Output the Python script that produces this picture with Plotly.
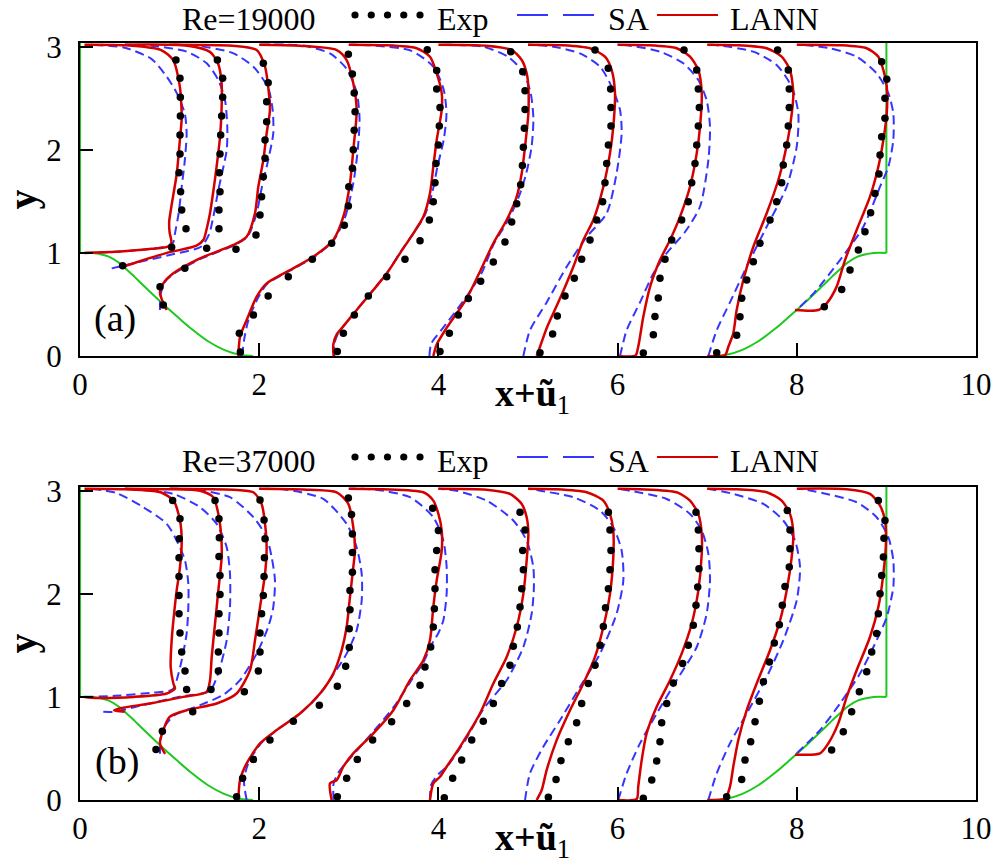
import plotly.graph_objects as go

W, H = 999, 863
FONT = "Liberation Serif"
RED = "#d40000"
BLUE = "#3535ff"
GREEN = "#1ec81e"

X_TICKS = [0, 2, 4, 6, 8, 10]
Y_TICKS = [0, 1, 2, 3]
X_RANGE = [0, 10]
Y_RANGE = [0, 3.036]
STATIONS = [0.05, 0.5, 1, 2, 3, 4, 5, 6, 7, 8]
PANEL_TITLES = ["Re=19000", "Re=37000"]
PANEL_TAGS = ["(a)", "(b)"]
SERIES_NAMES = ["Exp", "SA", "LANN"]

# hill geometry
HILL_X = [0.0, 0.143, 0.321, 0.429, 0.5, 0.607, 0.714, 0.893, 1.071, 1.25, 1.429, 1.607, 1.786, 1.929]
HILL_Y = [1.0, 0.999, 0.964, 0.908, 0.857, 0.770, 0.679, 0.532, 0.393, 0.259, 0.143, 0.060, 0.012, 0.0]
WALL_LEFT_X = 0.0
WALL_RIGHT_X = 9.0
HILL_TOP = 1.0
CHANNEL_TOP = 3.036

# ---------------- panel (a) Re=19000 ----------------
LANN_A_X = [
    [0.05, 0.4, 0.8, 0.98, 1.02, 1.0, 0.995, 1.02, 1.08, 1.115, 1.135, 1.13, 1.115, 1.04, 0.9, 0.5, 0.05],
    [0.46, 0.6, 0.97, 1.3, 1.38, 1.41, 1.45, 1.49, 1.525, 1.56, 1.58, 1.58, 1.54, 1.45, 1.2, 0.5],
    [0.967, 0.893, 0.93, 1.042, 1.339, 1.711, 1.86, 1.953, 1.99, 2.046, 2.083, 2.12, 2.1, 2.065, 1.972, 1.7, 1.0],
    [1.767, 1.786, 1.86, 1.972, 2.083, 2.344, 2.604, 2.827, 2.939, 3.013, 3.05, 3.088, 3.05, 2.976, 2.865, 2.455, 2.0],
    [2.83, 2.827, 2.865, 2.94, 3.088, 3.274, 3.423, 3.571, 3.72, 3.832, 3.906, 3.943, 3.981, 4.037, 4.037, 3.981, 3.906, 3.757, 3.385, 3.0],
    [3.943, 3.98, 4.09, 4.315, 4.47, 4.613, 4.762, 4.874, 4.93, 4.967, 5.004, 5.004, 4.985, 4.93, 4.818, 4.539, 4.0],
    [5.097, 5.134, 5.208, 5.357, 5.506, 5.618, 5.729, 5.841, 5.915, 5.952, 5.971, 5.934, 5.859, 5.692, 5.394, 5.0],
    [6.0, 6.2, 6.23, 6.287, 6.362, 6.473, 6.585, 6.696, 6.808, 6.883, 6.92, 6.939, 6.901, 6.808, 6.659, 6.324, 6.0],
    [7.0, 7.2, 7.236, 7.291, 7.329, 7.403, 7.515, 7.664, 7.794, 7.868, 7.924, 7.961, 7.924, 7.831, 7.664, 7.329, 7.0],
    [7.98, 8.24, 8.333, 8.445, 8.538, 8.668, 8.817, 8.91, 8.966, 9.004, 9.004, 8.966, 8.91, 8.78, 8.482, 8.0],
]
LANN_A_Y = [
    [1.0, 1.01, 1.04, 1.06, 1.1, 1.2, 1.3, 1.45, 1.77, 2.1, 2.3, 2.45, 2.61, 2.87, 2.97, 3.015, 3.02],
    [0.86, 0.9, 1.0, 1.07, 1.13, 1.22, 1.38, 1.61, 1.84, 2.1, 2.39, 2.65, 2.84, 2.95, 3.01, 3.02],
    [0.446, 0.608, 0.705, 0.802, 0.947, 1.077, 1.157, 1.384, 1.642, 1.901, 2.16, 2.386, 2.612, 2.806, 2.968, 3.01, 3.02],
    [0.0, 0.187, 0.349, 0.575, 0.705, 0.834, 0.963, 1.125, 1.351, 1.675, 1.998, 2.386, 2.645, 2.871, 2.968, 3.01, 3.02],
    [0.0, 0.11, 0.21, 0.29, 0.446, 0.64, 0.80, 0.996, 1.19, 1.35, 1.578, 1.836, 2.095, 2.386, 2.55, 2.742, 2.903, 2.985, 3.015, 3.02],
    [0.0, 0.11, 0.27, 0.557, 0.83, 1.093, 1.319, 1.545, 1.772, 2.03, 2.354, 2.612, 2.742, 2.871, 2.968, 3.01, 3.02],
    [0.0, 0.09, 0.27, 0.557, 0.866, 1.125, 1.319, 1.642, 1.965, 2.225, 2.548, 2.774, 2.903, 2.985, 3.015, 3.02],
    [0.0, 0.005, 0.09, 0.38, 0.67, 0.93, 1.125, 1.35, 1.642, 1.965, 2.225, 2.548, 2.774, 2.903, 2.985, 3.015, 3.02],
    [0.0, 0.01, 0.09, 0.22, 0.446, 0.737, 1.06, 1.384, 1.707, 1.965, 2.225, 2.548, 2.774, 2.903, 2.985, 3.015, 3.02],
    [0.446, 0.446, 0.51, 0.673, 0.93, 1.222, 1.545, 1.836, 2.095, 2.354, 2.612, 2.774, 2.903, 2.985, 3.015, 3.02],
]
SA_A_X = [
    [0.05, 0.4, 0.8, 1.0, 1.04, 1.06, 1.10, 1.135, 1.17, 1.19, 1.17, 1.08, 0.967, 0.8, 0.5, 0.1],
    [0.354, 0.6, 1.0, 1.35, 1.44, 1.488, 1.544, 1.637, 1.644, 1.618, 1.544, 1.414, 1.19, 0.8, 0.5],
    [0.893, 0.9, 0.95, 1.05, 1.34, 1.71, 1.87, 1.97, 2.03, 2.1, 2.157, 2.15, 2.1, 1.935, 1.7, 1.3, 1.0],
    [1.81, 1.83, 1.88, 1.99, 2.09, 2.35, 2.61, 2.83, 2.96, 3.05, 3.1, 3.12, 3.09, 2.98, 2.8, 2.5, 2.0],
    [2.84, 2.84, 2.88, 2.95, 3.09, 3.27, 3.42, 3.57, 3.72, 3.84, 3.93, 3.99, 4.06, 4.09, 4.06, 3.95, 3.7, 3.3, 3.0],
    [3.9, 3.92, 4.05, 4.3, 4.48, 4.62, 4.78, 4.9, 4.98, 5.04, 5.06, 5.03, 4.95, 4.78, 4.5, 4.0],
    [4.948, 5.022, 5.208, 5.432, 5.65, 5.878, 5.989, 6.045, 6.027, 5.934, 5.804, 5.58, 5.283, 5.0],
    [6.027, 6.101, 6.25, 6.399, 6.55, 6.75, 6.92, 7.013, 7.031, 6.994, 6.901, 6.733, 6.473, 6.138, 6.0],
    [7.013, 7.106, 7.254, 7.44, 7.664, 7.887, 7.999, 8.017, 7.943, 7.775, 7.515, 7.143, 7.0],
    [8.036, 8.2, 8.482, 8.743, 8.929, 9.022, 9.077, 9.077, 9.022, 8.891, 8.668, 8.371, 8.036],
]
SA_A_Y = [
    [1.0, 1.01, 1.04, 1.07, 1.1, 1.19, 1.38, 1.64, 1.9, 2.16, 2.35, 2.55, 2.71, 2.88, 2.99, 3.02],
    [0.85, 0.9, 0.98, 1.06, 1.18, 1.35, 1.61, 1.998, 2.224, 2.483, 2.677, 2.839, 2.952, 3.01, 3.02],
    [0.446, 0.6, 0.72, 0.8, 0.94, 1.07, 1.16, 1.38, 1.64, 1.9, 2.16, 2.39, 2.6, 2.806, 2.94, 3.01, 3.02],
    [0.0, 0.15, 0.35, 0.57, 0.7, 0.83, 0.96, 1.12, 1.35, 1.675, 2.0, 2.3, 2.55, 2.78, 2.93, 3.01, 3.02],
    [0.0, 0.12, 0.22, 0.3, 0.45, 0.64, 0.8, 1.0, 1.19, 1.35, 1.58, 1.84, 2.1, 2.35, 2.58, 2.8, 2.96, 3.01, 3.02],
    [0.0, 0.12, 0.27, 0.56, 0.80, 1.09, 1.32, 1.55, 1.77, 2.03, 2.3, 2.55, 2.75, 2.9, 3.0, 3.02],
    [0.0, 0.25, 0.52, 0.866, 1.15, 1.384, 1.772, 2.16, 2.386, 2.612, 2.806, 2.935, 3.0, 3.02],
    [0.0, 0.25, 0.52, 0.80, 1.0, 1.2, 1.45, 1.9, 2.225, 2.48, 2.677, 2.839, 2.952, 3.01, 3.02],
    [0.0, 0.25, 0.52, 0.866, 1.254, 1.642, 2.03, 2.354, 2.612, 2.823, 2.952, 3.01, 3.02],
    [0.478, 0.62, 0.93, 1.254, 1.642, 1.836, 2.095, 2.354, 2.548, 2.742, 2.903, 2.985, 3.02],
]
EXP_A_X = [
    [1.023, 1.183, 1.135, 1.123, 1.105, 1.116, 1.116, 1.12, 1.12, 1.116, 1.071],
    [0.476, 1.414, 1.551, 1.551, 1.5625, 1.555, 1.5625, 1.57, 1.581, 1.592, 1.592, 1.533],
    [0.93, 0.893, 1.17, 1.741, 1.964, 2.009, 2.027, 2.046, 2.065, 2.065, 2.083, 2.083, 2.1, 2.046],
    [1.79, 1.778, 1.935, 2.1, 2.325, 2.593, 2.809, 2.95, 2.995, 3.0, 3.04, 3.05, 3.06, 3.07, 3.06, 3.04, 2.995],
    [2.872, 2.939, 3.062, 3.218, 3.423, 3.627, 3.795, 3.899, 3.943, 3.962, 3.973, 3.999, 4.01, 4.018, 3.981, 3.981, 3.876],
    [4.018, 4.122, 4.222, 4.334, 4.472, 4.613, 4.743, 4.818, 4.874, 4.918, 4.937, 4.948, 4.959, 4.967, 4.967, 4.941, 4.807],
    [5.134, 5.275, 5.327, 5.413, 5.517, 5.599, 5.692, 5.766, 5.833, 5.859, 5.878, 5.897, 5.926, 5.926, 5.922, 5.896, 5.748],
    [6.287, 6.399, 6.417, 6.454, 6.473, 6.529, 6.604, 6.715, 6.789, 6.827, 6.864, 6.883, 6.901, 6.912, 6.901, 6.883, 6.741],
    [7.106, 7.329, 7.366, 7.385, 7.441, 7.515, 7.589, 7.701, 7.775, 7.831, 7.849, 7.887, 7.905, 7.916, 7.916, 7.905, 7.786],
    [8.307, 8.501, 8.594, 8.687, 8.761, 8.824, 8.873, 8.917, 8.929, 8.947, 8.984, 8.984, 9.004, 8.947],
]
EXP_A_Y = [
    [1.054, 1.235, 1.416, 1.594, 1.778, 1.959, 2.144, 2.328, 2.509, 2.693, 2.871],
    [0.876, 1.044, 1.235, 1.416, 1.594, 1.778, 1.959, 2.144, 2.328, 2.509, 2.693, 2.871],
    [0.495, 0.672, 0.85, 1.035, 1.174, 1.368, 1.545, 1.739, 1.917, 2.095, 2.272, 2.467, 2.65, 2.839],
    [0.04, 0.22, 0.398, 0.582, 0.769, 0.938, 1.093, 1.268, 1.455, 1.642, 1.82, 2.0, 2.19, 2.37, 2.55, 2.735, 2.926],
    [0.043, 0.22, 0.398, 0.582, 0.769, 0.938, 1.118, 1.319, 1.497, 1.681, 1.868, 2.046, 2.23, 2.41, 2.59, 2.77, 2.97],
    [0.043, 0.22, 0.398, 0.558, 0.725, 0.912, 1.106, 1.3, 1.477, 1.661, 1.848, 2.025, 2.209, 2.39, 2.574, 2.758, 2.952],
    [0.032, 0.213, 0.388, 0.582, 0.754, 0.938, 1.125, 1.319, 1.497, 1.681, 1.868, 2.046, 2.23, 2.41, 2.59, 2.79, 2.968],
    [0.03, 0.206, 0.384, 0.563, 0.754, 0.938, 1.125, 1.319, 1.497, 1.681, 1.868, 2.046, 2.23, 2.41, 2.59, 2.774, 2.968],
    [0.032, 0.202, 0.38, 0.559, 0.737, 0.915, 1.093, 1.319, 1.497, 1.681, 1.852, 2.046, 2.23, 2.41, 2.59, 2.774, 2.968],
    [0.478, 0.646, 0.834, 1.028, 1.206, 1.39, 1.577, 1.765, 1.949, 2.127, 2.305, 2.5, 2.684, 2.855],
]

# ---------------- panel (b) Re=37000 ----------------
LANN_B_X = [
    [0.05, 0.19, 0.6, 0.967, 1.06, 1.042, 1.012, 1.023, 1.05, 1.079, 1.116, 1.135, 1.116, 1.042, 0.9, 0.5, 0.05],
    [0.5, 0.38, 0.48, 0.781, 1.153, 1.414, 1.451, 1.47, 1.507, 1.544, 1.581, 1.574, 1.544, 1.488, 1.339, 1.0, 0.5],
    [0.95, 0.893, 0.93, 1.0, 1.19, 1.525, 1.748, 1.897, 1.953, 2.009, 2.065, 2.083, 2.065, 2.027, 1.935, 1.711, 1.0],
    [1.767, 1.786, 1.86, 2.009, 2.195, 2.455, 2.679, 2.827, 2.92, 2.976, 3.013, 3.05, 3.069, 3.05, 2.995, 2.865, 2.567, 2.0],
    [2.809, 2.79, 2.865, 2.939, 3.05, 3.274, 3.497, 3.683, 3.832, 3.906, 3.943, 3.981, 4.037, 4.037, 4.0, 3.943, 3.832, 3.385, 3.0],
    [3.906, 3.943, 4.018, 4.092, 4.241, 4.464, 4.613, 4.762, 4.874, 4.948, 4.985, 5.004, 4.985, 4.93, 4.799, 4.539, 4.0],
    [5.097, 5.153, 5.208, 5.32, 5.469, 5.618, 5.748, 5.841, 5.915, 5.952, 5.952, 5.915, 5.841, 5.655, 5.283, 5.0],
    [6.0, 6.213, 6.23, 6.269, 6.324, 6.436, 6.585, 6.715, 6.827, 6.901, 6.939, 6.939, 6.901, 6.808, 6.659, 6.25, 6.0],
    [7.0, 7.2, 7.254, 7.291, 7.347, 7.441, 7.552, 7.701, 7.813, 7.887, 7.943, 7.961, 7.924, 7.831, 7.664, 7.291, 7.0],
    [7.98, 8.259, 8.352, 8.463, 8.557, 8.668, 8.817, 8.91, 8.966, 8.996, 8.984, 8.929, 8.817, 8.557, 8.0],
]
LANN_B_Y = [
    [1.0, 0.99, 1.0, 1.033, 1.081, 1.13, 1.29, 1.549, 1.807, 2.033, 2.259, 2.517, 2.711, 2.904, 2.985, 3.015, 3.02],
    [0.857, 0.87, 0.895, 0.936, 1.0, 1.049, 1.162, 1.388, 1.71, 2.033, 2.356, 2.582, 2.775, 2.937, 3.0, 3.015, 3.02],
    [0.448, 0.55, 0.68, 0.807, 0.871, 0.936, 1.033, 1.258, 1.549, 1.871, 2.194, 2.452, 2.678, 2.872, 2.985, 3.01, 3.02],
    [0.0, 0.194, 0.355, 0.549, 0.678, 0.839, 1.033, 1.226, 1.452, 1.678, 1.968, 2.258, 2.42, 2.646, 2.872, 2.985, 3.01, 3.02],
    [0.0, 0.161, 0.194, 0.323, 0.452, 0.646, 0.871, 1.162, 1.355, 1.549, 1.871, 2.13, 2.42, 2.614, 2.775, 2.904, 2.985, 3.015, 3.02],
    [0.0, 0.161, 0.226, 0.323, 0.516, 0.839, 1.13, 1.388, 1.678, 2.0, 2.323, 2.582, 2.743, 2.872, 2.969, 3.01, 3.02],
    [0.0, 0.097, 0.29, 0.581, 0.871, 1.13, 1.388, 1.678, 2.0, 2.356, 2.614, 2.775, 2.904, 2.985, 3.015, 3.02],
    [0.0, 0.01, 0.129, 0.387, 0.646, 0.904, 1.162, 1.42, 1.71, 2.033, 2.388, 2.582, 2.775, 2.904, 2.985, 3.015, 3.02],
    [0.0, 0.015, 0.129, 0.323, 0.581, 0.871, 1.13, 1.452, 1.742, 2.033, 2.356, 2.582, 2.775, 2.904, 2.985, 3.015, 3.02],
    [0.44, 0.452, 0.549, 0.743, 1.0, 1.259, 1.581, 1.871, 2.194, 2.517, 2.711, 2.856, 2.969, 3.015, 3.02],
]
SA_B_X = [
    [0.05, 0.4, 0.8, 1.0, 1.042, 1.079, 1.135, 1.19, 1.209, 1.209, 1.172, 1.079, 0.967, 0.707, 0.4, 0.1],
    [0.26, 0.37, 0.7, 1.1, 1.45, 1.563, 1.637, 1.674, 1.674, 1.637, 1.525, 1.339, 1.042, 0.7, 0.5],
    [0.893, 0.9, 0.95, 1.05, 1.34, 1.6, 1.786, 1.972, 2.1, 2.157, 2.176, 2.139, 2.083, 1.935, 1.674, 1.3, 1.0],
    [1.86, 1.83, 1.88, 2.02, 2.2, 2.46, 2.68, 2.83, 2.976, 3.088, 3.144, 3.144, 3.088, 2.976, 2.715, 2.3, 2.0],
    [2.83, 2.83, 2.88, 2.95, 3.08, 3.28, 3.5, 3.69, 3.83, 3.92, 4.0, 4.055, 4.092, 4.092, 4.055, 3.943, 3.683, 3.3, 3.0],
    [3.906, 3.92, 4.0, 4.1, 4.3, 4.5, 4.762, 4.948, 5.041, 5.066, 5.059, 4.985, 4.836, 4.539, 4.2, 4.0],
    [4.967, 5.022, 5.171, 5.357, 5.58, 5.804, 5.989, 6.064, 6.045, 5.952, 5.804, 5.506, 5.134, 5.0],
    [6.008, 6.101, 6.25, 6.436, 6.659, 6.883, 6.994, 7.031, 7.013, 6.939, 6.808, 6.548, 6.138, 6.0],
    [7.013, 7.106, 7.254, 7.441, 7.664, 7.849, 7.999, 8.036, 7.98, 7.849, 7.627, 7.291, 7.0],
    [7.999, 8.259, 8.482, 8.705, 8.891, 9.004, 9.077, 9.077, 9.022, 8.891, 8.668, 8.333, 8.036],
]
SA_B_Y = [
    [1.0, 1.01, 1.04, 1.06, 1.081, 1.162, 1.355, 1.614, 1.871, 2.098, 2.323, 2.517, 2.68, 2.84, 2.98, 3.02],
    [0.855, 0.855, 0.92, 1.0, 1.06, 1.29, 1.549, 1.871, 2.194, 2.452, 2.678, 2.84, 2.969, 3.01, 3.02],
    [0.448, 0.6, 0.72, 0.82, 0.92, 1.02, 1.162, 1.42, 1.678, 1.871, 2.13, 2.356, 2.549, 2.743, 2.937, 3.01, 3.02],
    [0.0, 0.19, 0.36, 0.55, 0.68, 0.84, 1.03, 1.22, 1.42, 1.646, 1.936, 2.194, 2.452, 2.678, 2.92, 3.01, 3.02],
    [0.0, 0.16, 0.26, 0.34, 0.47, 0.67, 0.9, 1.15, 1.33, 1.5, 1.62, 1.742, 2.0, 2.259, 2.517, 2.743, 2.937, 3.01, 3.02],
    [0.0, 0.15, 0.25, 0.33, 0.58, 0.88, 1.162, 1.484, 1.807, 2.065, 2.259, 2.517, 2.711, 2.904, 3.0, 3.02],
    [0.0, 0.258, 0.516, 0.774, 1.097, 1.42, 1.807, 2.13, 2.42, 2.646, 2.807, 2.937, 3.0, 3.02],
    [0.0, 0.258, 0.549, 0.839, 1.162, 1.484, 1.807, 2.13, 2.388, 2.614, 2.775, 2.92, 3.0, 3.02],
    [0.0, 0.258, 0.549, 0.839, 1.194, 1.549, 1.936, 2.259, 2.517, 2.711, 2.872, 2.969, 3.02],
    [0.452, 0.678, 0.936, 1.226, 1.549, 1.775, 2.065, 2.323, 2.549, 2.743, 2.888, 2.969, 3.02],
]
EXP_B_X = [
    [1.19, 1.172, 1.135, 1.116, 1.105, 1.105, 1.105, 1.105, 1.108, 1.116, 1.034],
    [1.462, 1.544, 1.544, 1.551, 1.551, 1.5625, 1.5625, 1.551, 1.555, 1.551, 1.507],
    [0.848, 0.919, 1.258, 1.834, 1.99, 2.009, 2.009, 2.027, 2.046, 2.054, 2.058, 2.065, 2.054, 2.009],
    [1.748, 1.815, 1.935, 2.12, 2.381, 2.671, 2.872, 2.965, 3.005, 3.005, 3.013, 3.013, 3.04, 3.04, 3.04, 3.03, 2.995],
    [2.872, 2.976, 3.095, 3.266, 3.478, 3.646, 3.795, 3.85, 3.914, 3.943, 3.955, 3.962, 3.962, 3.981, 4.0, 3.936],
    [4.066, 4.159, 4.259, 4.372, 4.501, 4.613, 4.706, 4.799, 4.836, 4.881, 4.911, 4.93, 4.948, 4.941, 4.967, 4.911],
    [5.227, 5.313, 5.368, 5.45, 5.543, 5.599, 5.673, 5.748, 5.804, 5.841, 5.865, 5.897, 5.915, 5.926, 5.915, 5.897],
    [6.287, 6.381, 6.436, 6.473, 6.492, 6.548, 6.622, 6.726, 6.789, 6.845, 6.875, 6.894, 6.908, 6.908, 6.901, 6.875],
    [7.217, 7.385, 7.422, 7.485, 7.534, 7.582, 7.627, 7.694, 7.749, 7.805, 7.838, 7.868, 7.916, 7.924, 7.924, 7.894],
    [8.389, 8.519, 8.612, 8.698, 8.78, 8.836, 8.891, 8.91, 8.929, 8.947, 8.966, 8.973, 8.984, 8.91],
]
EXP_B_Y = [
    [1.071, 1.252, 1.436, 1.62, 1.807, 1.984, 2.168, 2.349, 2.533, 2.727, 2.904],
    [1.071, 1.252, 1.436, 1.62, 1.807, 1.994, 2.178, 2.362, 2.543, 2.727, 2.904],
    [0.49, 0.667, 0.855, 1.049, 1.252, 1.436, 1.62, 1.807, 1.984, 2.168, 2.349, 2.533, 2.717, 2.91],
    [0.032, 0.21, 0.394, 0.581, 0.765, 0.92, 1.104, 1.297, 1.478, 1.662, 1.846, 2.033, 2.21, 2.4, 2.58, 2.77, 2.93],
    [0.032, 0.21, 0.394, 0.581, 0.758, 0.936, 1.114, 1.291, 1.485, 1.678, 1.855, 2.049, 2.233, 2.42, 2.614, 2.83],
    [0.023, 0.21, 0.387, 0.581, 0.765, 0.936, 1.13, 1.307, 1.491, 1.678, 1.871, 2.049, 2.233, 2.42, 2.62, 2.791],
    [0.026, 0.2, 0.381, 0.565, 0.749, 0.936, 1.13, 1.307, 1.5, 1.684, 1.865, 2.049, 2.233, 2.42, 2.62, 2.791],
    [0.016, 0.194, 0.378, 0.565, 0.749, 0.936, 1.136, 1.323, 1.5, 1.694, 1.888, 2.065, 2.243, 2.436, 2.62, 2.791],
    [0.032, 0.2, 0.387, 0.565, 0.759, 0.959, 1.146, 1.339, 1.523, 1.701, 1.888, 2.072, 2.259, 2.436, 2.62, 2.807],
    [0.485, 0.662, 0.856, 1.049, 1.243, 1.436, 1.614, 1.807, 2.0, 2.178, 2.356, 2.54, 2.711, 2.904],
]

# ---------------- layout helpers (pixel -> paper) ----------------
def px(x):
    return x / W


def py(y):
    return 1 - y / H


PLOT_LEFT, PLOT_RIGHT = 80, 976
PANELS = [
    dict(xa="x", ya="y", top=43, bottom=356, legend_top=0, legend_y=15, tag_xy=(115, 318),
         lann=(LANN_A_X, LANN_A_Y), sa=(SA_A_X, SA_A_Y), exp=(EXP_A_X, EXP_A_Y)),
    dict(xa="x2", ya="y2", top=487, bottom=800, legend_top=442, legend_y=457, tag_xy=(117, 761),
         lann=(LANN_B_X, LANN_B_Y), sa=(SA_B_X, SA_B_Y), exp=(EXP_B_X, EXP_B_Y)),
]

fig = go.Figure()
shapes = []
annotations = []
LEG_FONT = dict(family=FONT, size=32, color="black")

for k, p in enumerate(PANELS):
    xa, ya = p["xa"], p["ya"]
    # geometry (green)
    fig.add_trace(go.Scatter(x=[WALL_LEFT_X, WALL_LEFT_X], y=[CHANNEL_TOP, HILL_TOP], mode="lines",
                             line=dict(color=GREEN, width=2), xaxis=xa, yaxis=ya, hoverinfo="skip"))
    fig.add_trace(go.Scatter(x=HILL_X, y=HILL_Y, mode="lines", line=dict(color=GREEN, width=2, shape="spline"),
                             xaxis=xa, yaxis=ya, hoverinfo="skip"))
    fig.add_trace(go.Scatter(x=[WALL_RIGHT_X - v for v in HILL_X], y=HILL_Y, mode="lines",
                             line=dict(color=GREEN, width=2, shape="spline"), xaxis=xa, yaxis=ya, hoverinfo="skip"))
    fig.add_trace(go.Scatter(x=[WALL_RIGHT_X, WALL_RIGHT_X], y=[HILL_TOP, CHANNEL_TOP], mode="lines",
                             line=dict(color=GREEN, width=2), xaxis=xa, yaxis=ya, hoverinfo="skip"))
    # SA
    sx, sy = p["sa"]
    for i in range(len(STATIONS)):
        fig.add_trace(go.Scatter(x=sx[i], y=sy[i], mode="lines", name=SERIES_NAMES[1],
                                 line=dict(color=BLUE, width=2, dash="9px,5px", shape="spline", smoothing=0.7),
                                 xaxis=xa, yaxis=ya))
    # LANN
    lx, ly = p["lann"]
    for i in range(len(STATIONS)):
        fig.add_trace(go.Scatter(x=lx[i], y=ly[i], mode="lines", name=SERIES_NAMES[2],
                                 line=dict(color=RED, width=2.5, shape="spline", smoothing=0.7),
                                 xaxis=xa, yaxis=ya))
    # Exp
    ex, ey = p["exp"]
    for i in range(len(STATIONS)):
        fig.add_trace(go.Scatter(x=ex[i], y=ey[i], mode="markers", name=SERIES_NAMES[0],
                                 marker=dict(color="black", size=7.5, symbol="circle"),
                                 xaxis=xa, yaxis=ya))

    # legend row (texts anchored at their top so they stay inside the page)
    lt = p["legend_top"]
    ly0 = p["legend_y"]
    for text, cx in [(PANEL_TITLES[k], 249), (SERIES_NAMES[0], 463), (SERIES_NAMES[1], 628),
                     (SERIES_NAMES[2], 774)]:
        annotations.append(dict(text=text, x=px(cx), y=py(lt), xref="paper", yref="paper",
                                showarrow=False, xanchor="center", yanchor="top", borderpad=0,
                                font=LEG_FONT))
    for j in range(5):
        cx = 355 + j * 16.25
        shapes.append(dict(type="circle", xref="paper", yref="paper",
                           x0=px(cx - 3.6), x1=px(cx + 3.6), y0=py(ly0 + 3.6), y1=py(ly0 - 3.6),
                           fillcolor="black", line=dict(width=0)))
    shapes.append(dict(type="line", xref="paper", yref="paper", x0=px(517), x1=px(594), y0=py(ly0), y1=py(ly0),
                       line=dict(color=BLUE, width=2, dash="31px,15px")))
    shapes.append(dict(type="line", xref="paper", yref="paper", x0=px(657), x1=px(718), y0=py(ly0), y1=py(ly0),
                       line=dict(color=RED, width=2.2)))
    # panel tag
    tx, ty = p["tag_xy"]
    annotations.append(dict(text=PANEL_TAGS[k], x=px(tx), y=py(ty), xref="paper", yref="paper",
                            showarrow=False, xanchor="center", yanchor="middle",
                            font=dict(family=FONT, size=38, color="black")))
    # axis titles
    annotations.append(dict(text="<b>y</b>", x=px(22), y=py((p["top"] + p["bottom"]) / 2), xref="paper",
                            yref="paper", showarrow=False, textangle=-90, xanchor="center", yanchor="middle",
                            font=dict(family=FONT, size=40, color="black")))
    annotations.append(dict(text="<b>x+ũ</b><sub>1</sub>", x=px((PLOT_LEFT + PLOT_RIGHT) / 2 + 4),
                            y=py(p["bottom"] + 40), xref="paper", yref="paper", showarrow=False,
                            xanchor="center", yanchor="middle",
                            font=dict(family=FONT, size=38, color="black")))

axis_common = dict(showgrid=False, zeroline=False, showline=True, linecolor="black", linewidth=2,
                   mirror=True, ticks="inside", ticklen=13, tickwidth=2, tickcolor="black",
                   automargin=False, tickfont=dict(family=FONT, size=31, color="black"))

layout_axes = {}
for k, p in enumerate(PANELS):
    sfx = "" if k == 0 else str(k + 1)
    layout_axes["xaxis" + sfx] = dict(axis_common, domain=[px(PLOT_LEFT), px(PLOT_RIGHT)], range=X_RANGE,
                                      tickvals=X_TICKS, anchor="y" + sfx)
    layout_axes["yaxis" + sfx] = dict(axis_common, domain=[py(p["bottom"]), py(p["top"])], range=Y_RANGE,
                                      tickvals=Y_TICKS, anchor="x" + sfx, ticklabelstandoff=10)

fig.update_layout(template="none", width=W, height=H, margin=dict(l=0, r=0, t=0, b=0, pad=0),
                  showlegend=False, paper_bgcolor="white", plot_bgcolor="white",
                  font=dict(family=FONT, color="black"),
                  shapes=shapes, annotations=annotations, **layout_axes)

fig.write_html("out.html", config={"displayModeBar": False},
               post_script="document.body.style.margin='0';document.body.style.overflow='hidden';")
